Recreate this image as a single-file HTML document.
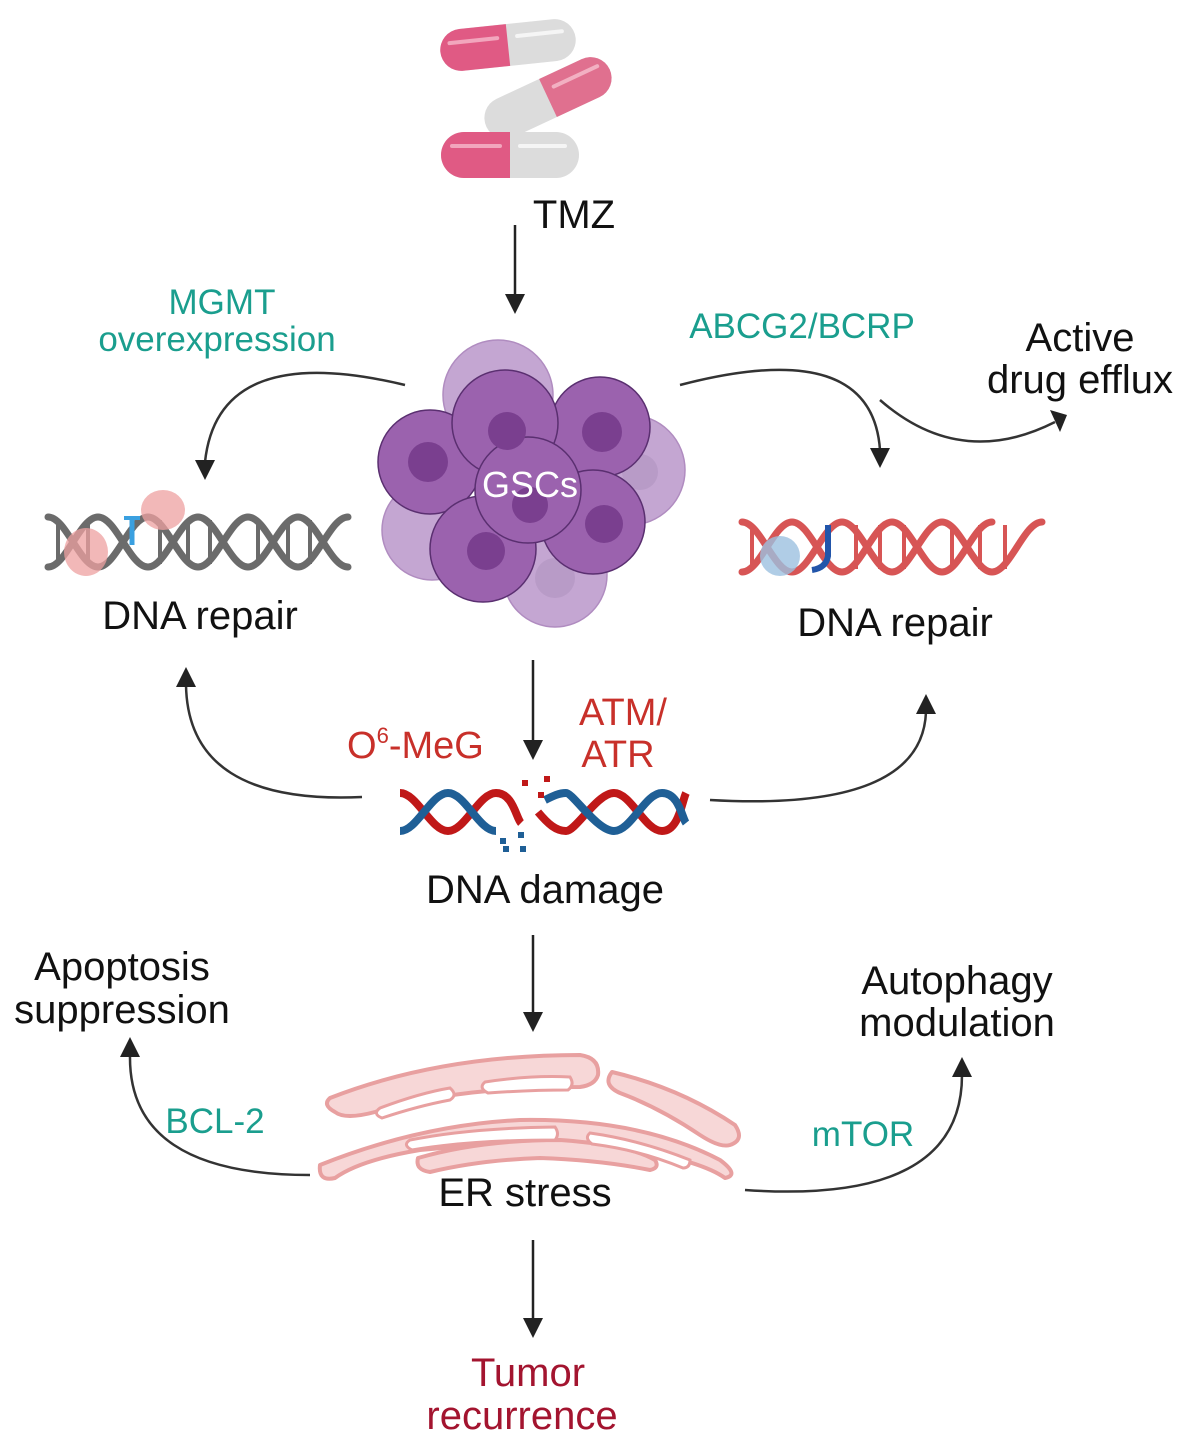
<!DOCTYPE html>
<html><head><meta charset="utf-8"><style>
html,body{margin:0;padding:0;background:#fff}
svg{display:block}
text{font-family:"Liberation Sans",Arial,sans-serif}
</style></head><body>
<svg width="1186" height="1455" viewBox="0 0 1186 1455" xmlns="http://www.w3.org/2000/svg">

<!-- Pills -->
<g>
 <g transform="translate(508,45) rotate(-6)">
  <rect x="-68" y="-21" width="136" height="42" rx="21" fill="#dcdcdc"/>
  <path d="M0,-21 H-47 A21,21 0 0 0 -47,21 H0 Z" fill="#e05a84"/>
  <path d="M-58,-8 H-10" stroke="#f2a6bd" stroke-width="4" stroke-linecap="round"/>
  <path d="M10,-8 H55" stroke="#f5f5f5" stroke-width="4" stroke-linecap="round"/>
 </g>
 <g transform="translate(548,98) rotate(-25)">
  <rect x="-68" y="-21" width="136" height="42" rx="21" fill="#dcdcdc"/>
  <path d="M0,-21 H47 A21,21 0 0 1 47,21 H0 Z" fill="#e0708f"/>
  <path d="M10,-8 H58" stroke="#f2b0c2" stroke-width="4" stroke-linecap="round"/>
 </g>
 <g transform="translate(510,155)">
  <rect x="-69" y="-23" width="138" height="46" rx="23" fill="#dcdcdc"/>
  <path d="M0,-23 H-46 A23,23 0 0 0 -46,23 H0 Z" fill="#e05a84"/>
  <path d="M-58,-9 H-10" stroke="#f2a6bd" stroke-width="4" stroke-linecap="round"/>
  <path d="M10,-9 H55" stroke="#f5f5f5" stroke-width="4" stroke-linecap="round"/>
 </g>
</g>
<text x="574" y="228" font-size="40" text-anchor="middle" fill="#111">TMZ</text>

<!-- Arrows straight -->
<g stroke="#222" stroke-width="2.5" fill="none">
 <line x1="515" y1="225" x2="515" y2="296"/>
 <line x1="533" y1="660" x2="533" y2="742"/>
 <line x1="533" y1="935" x2="533" y2="1014"/>
 <line x1="533" y1="1240" x2="533" y2="1320"/>
</g>
<g fill="#222">
 <path d="M505,294 L525,294 L515,314 Z"/>
 <path d="M523,740 L543,740 L533,760 Z"/>
 <path d="M523,1012 L543,1012 L533,1032 Z"/>
 <path d="M523,1318 L543,1318 L533,1338 Z"/>
</g>

<!-- Curved arrows -->
<g fill="none" stroke-width="2.5" stroke="#333">
 <path d="M405,385 Q218,340 205,462"/>
 <path d="M680,385 Q872,335 880,450"/>
 <path d="M880,400 Q960,470 1055,422"/>
 <path d="M362,797 Q188,805 186,685"/>
 <path d="M710,800 Q922,812 926,712"/>
 <path d="M310,1175 Q128,1175 130,1055"/>
 <path d="M745,1190 Q962,1205 962,1075"/>
</g>
<g fill="#222">
 <path d="M195,460 L215,460 L205,480 Z"/>
 <path d="M870,448 L890,448 L880,468 Z"/>
 <path d="M1050,410 L1067,415 L1060,432 Z"/>
 <path d="M176,687 L196,687 L186,667 Z"/>
 <path d="M916,714 L936,714 L926,694 Z"/>
 <path d="M120,1057 L140,1057 L130,1037 Z"/>
 <path d="M952,1077 L972,1077 L962,1057 Z"/>
</g>

<!-- GSCs cluster -->
<g stroke="#b08cc0" stroke-width="1.5">
 <circle cx="498" cy="395" r="55" fill="#c4a6d2"/>
 <circle cx="630" cy="470" r="55" fill="#c4a6d2"/>
 <circle cx="432" cy="530" r="50" fill="#c4a6d2"/>
 <circle cx="555" cy="575" r="52" fill="#c4a6d2"/>
 <circle cx="555" cy="578" r="20" fill="#b89bc7" stroke="none"/>
 <circle cx="640" cy="472" r="18" fill="#b89bc7" stroke="none"/>
</g>
<g stroke="#5a2f70" stroke-width="1.5" fill="#9b62ae">
 <circle cx="430" cy="462" r="52"/>
 <circle cx="600" cy="427" r="50"/>
 <circle cx="505" cy="423" r="53"/>
 <circle cx="593" cy="522" r="52"/>
 <circle cx="483" cy="549" r="53"/>
 <circle cx="528" cy="490" r="53"/>
</g>
<g fill="#7a3f8f">
 <circle cx="428" cy="462" r="20"/>
 <circle cx="602" cy="432" r="20"/>
 <circle cx="507" cy="431" r="19"/>
 <circle cx="604" cy="524" r="19"/>
 <circle cx="486" cy="551" r="19"/>
 <circle cx="530" cy="505" r="18"/>
</g>
<text x="530" y="497" font-size="36" text-anchor="middle" fill="#fff">GSCs</text>

<!-- Left DNA repair helix (grey) -->
<g fill="none" stroke="#6b6b6b" stroke-width="7" stroke-linecap="round">
 <path d="M48,517 c18,0 32,50 50,50 s32,-50 50,-50 s32,50 50,50 s32,-50 50,-50 s32,50 50,50 s32,-50 50,-50"/>
 <path d="M48,567 c18,0 32,-50 50,-50 s32,50 50,50 s32,-50 50,-50 s32,50 50,50 s32,-50 50,-50 s32,50 50,50"/>
</g>
<g stroke="#6b6b6b" stroke-width="4">
 <line x1="58" y1="520" x2="58" y2="564"/><line x1="88" y1="520" x2="88" y2="564"/>
 <line x1="160" y1="520" x2="160" y2="564"/><line x1="188" y1="520" x2="188" y2="564"/>
 <line x1="210" y1="520" x2="210" y2="564"/><line x1="258" y1="520" x2="258" y2="564"/>
 <line x1="288" y1="520" x2="288" y2="564"/><line x1="310" y1="520" x2="310" y2="564"/>
</g>
<line x1="132" y1="520" x2="132" y2="545" stroke="#3aa0e0" stroke-width="5"/>
<line x1="124" y1="518" x2="140" y2="518" stroke="#3aa0e0" stroke-width="4"/>
<ellipse cx="86" cy="552" rx="22" ry="24" fill="#eea0a0" opacity="0.75"/>
<ellipse cx="163" cy="510" rx="22" ry="20" fill="#eea0a0" opacity="0.75"/>
<text x="200" y="629" font-size="40" text-anchor="middle" fill="#111">DNA repair</text>

<!-- Right DNA repair helix (red) -->
<g fill="none" stroke="#d75555" stroke-width="7" stroke-linecap="round">
 <path d="M742,522 c18,0 32,50 50,50 s32,-50 50,-50 s32,50 50,50 s32,-50 50,-50 s32,50 50,50 s32,-50 50,-50"/>
 <path d="M742,572 c18,0 32,-50 50,-50 s32,50 50,50 s32,-50 50,-50 s32,50 50,50 s32,-50 50,-50"/>
</g>
<g stroke="#d75555" stroke-width="4">
 <line x1="752" y1="525" x2="752" y2="569"/><line x1="856" y1="525" x2="856" y2="569"/>
 <line x1="880" y1="525" x2="880" y2="569"/><line x1="904" y1="525" x2="904" y2="569"/>
 <line x1="952" y1="525" x2="952" y2="569"/><line x1="980" y1="525" x2="980" y2="569"/>
 <line x1="1005" y1="525" x2="1005" y2="569"/>
</g>
<path d="M828,525 L828,556 Q826,568 812,570" fill="none" stroke="#2255aa" stroke-width="6"/>
<ellipse cx="780" cy="556" rx="20" ry="20" fill="#9cc0e0" opacity="0.8"/>
<text x="895" y="636" font-size="40" text-anchor="middle" fill="#111">DNA repair</text>

<!-- DNA damage helix -->
<g fill="none" stroke-width="8">
 <path d="M400,793 c17,0 31,38 48,38 s31,-38 48,-38 s20,25 25,30" stroke="#c01818"/>
 <path d="M400,831 c17,0 31,-38 48,-38 s31,38 48,38" stroke="#1f5f96"/>
 <path d="M538,812 c10,12 18,19 28,19 s31,-38 48,-38 s31,38 48,38 s20,-30 24,-38" stroke="#c01818"/>
 <path d="M545,800 c8,-4 14,-7 21,-7 s31,38 48,38 s31,-38 48,-38 s20,25 24,30" stroke="#1f5f96"/>
</g>
<g fill="#c01818"><rect x="522" y="780" width="6" height="6"/><rect x="544" y="776" width="6" height="6"/><rect x="538" y="792" width="6" height="6"/></g>
<g fill="#1f5f96"><rect x="500" y="838" width="6" height="6"/><rect x="503" y="846" width="6" height="6"/><rect x="520" y="846" width="6" height="6"/><rect x="518" y="832" width="6" height="6"/></g>
<text x="545" y="903" font-size="40" text-anchor="middle" fill="#111">DNA damage</text>

<!-- ER -->
<g fill="#f7d7d7" stroke="#e8a0a0" stroke-width="4" stroke-linejoin="round">
 <path d="M330,1098 Q440,1055 580,1055 Q600,1058 598,1075 Q595,1085 580,1087 Q455,1087 375,1112 Q345,1120 335,1112 Q322,1105 330,1098 Z"/>
 <path d="M612,1072 Q680,1088 735,1125 Q745,1140 730,1145 Q720,1148 700,1135 Q660,1108 620,1093 Q602,1085 612,1072 Z"/>
 <path d="M320,1165 Q420,1125 520,1120 Q640,1118 720,1160 Q740,1175 725,1178 Q700,1160 620,1147 Q520,1140 420,1150 Q360,1160 335,1178 Q318,1182 320,1165 Z"/>
 <path d="M418,1158 Q480,1140 560,1140 Q630,1145 655,1160 Q660,1168 650,1170 Q600,1160 540,1158 Q480,1160 430,1172 Q415,1170 418,1158 Z"/>
</g>
<g fill="#fff" stroke="#e8a0a0" stroke-width="3">
 <path d="M380,1108 Q420,1093 450,1088 Q458,1095 450,1100 Q418,1106 382,1118 Q372,1114 380,1108 Z"/>
 <path d="M485,1082 Q530,1075 570,1077 Q575,1085 568,1090 Q530,1090 488,1093 Q478,1088 485,1082 Z"/>
 <path d="M410,1140 Q470,1128 555,1127 Q560,1134 555,1140 Q470,1140 412,1150 Q402,1145 410,1140 Z"/>
 <path d="M590,1133 Q640,1140 690,1160 Q690,1168 683,1168 Q640,1150 592,1144 Q584,1138 590,1133 Z"/>
</g>
<text x="525" y="1206" font-size="40" text-anchor="middle" fill="#111">ER stress</text>

<!-- Labels -->
<g font-size="35" fill="#1a9e8e" text-anchor="middle">
 <text x="222" y="314">MGMT</text>
 <text x="217" y="351">overexpression</text>
 <text x="802" y="338">ABCG2/BCRP</text>
 <text x="215" y="1133">BCL-2</text>
 <text x="863" y="1146">mTOR</text>
</g>
<g font-size="40" fill="#111" text-anchor="middle">
 <text x="1080" y="351">Active</text>
 <text x="1080" y="393">drug efflux</text>
 <text x="122" y="980">Apoptosis</text>
 <text x="122" y="1023">suppression</text>
 <text x="957" y="994">Autophagy</text>
 <text x="957" y="1036">modulation</text>
</g>
<g font-size="38" fill="#c8302a">
 <text x="347" y="758">O<tspan font-size="22" dy="-15">6</tspan><tspan dy="15">-MeG</tspan></text>
 <text x="623" y="725" text-anchor="middle">ATM/</text>
 <text x="618" y="767" text-anchor="middle">ATR</text>
</g>
<g font-size="40" fill="#a3142f" text-anchor="middle">
 <text x="528" y="1386">Tumor</text>
 <text x="522" y="1429">recurrence</text>
</g>
</svg>
</body></html>
